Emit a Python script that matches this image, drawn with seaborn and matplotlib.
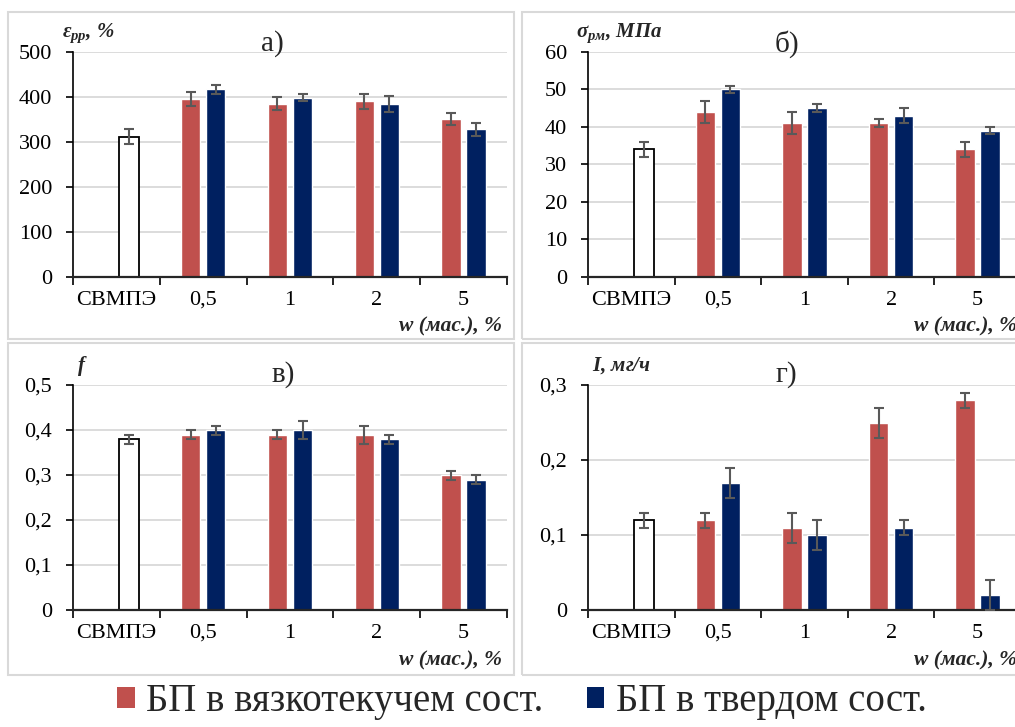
import numpy as np
import pandas as pd
import matplotlib
matplotlib.use("Agg")
import matplotlib.pyplot as plt
from matplotlib.patches import Rectangle, Patch
from matplotlib.ticker import FuncFormatter, FixedLocator
import seaborn as sns

# ---- data ----
categories = ["СВМПЭ", "0,5", "1", "2", "5"]
series = ["БП в вязкотекучем сост.", "БП в твердом сост."]

# elongation at break, %
elong_visc = [np.nan, 396, 385, 390, 351]
elong_visc_err = [np.nan, 16, 15, 17, 14]
elong_solid = [312, 417, 398, 384, 328]
elong_solid_err = [16, 10, 8, 18, 14]

# tensile strength, MPa
strength_visc = [np.nan, 44, 41, 41, 34]
strength_visc_err = [np.nan, 3, 3, 1, 2]
strength_solid = [34, 50, 45, 43, 39]
strength_solid_err = [2, 1, 1, 2, 1]

# friction coefficient
friction_visc = [np.nan, 0.39, 0.39, 0.39, 0.30]
friction_visc_err = [np.nan, 0.01, 0.01, 0.02, 0.01]
friction_solid = [0.38, 0.40, 0.40, 0.38, 0.29]
friction_solid_err = [0.01, 0.01, 0.02, 0.01, 0.01]

# wear rate, mg/h
wear_visc = [np.nan, 0.12, 0.11, 0.25, 0.28]
wear_visc_err = [np.nan, 0.01, 0.02, 0.02, 0.01]
wear_solid = [0.12, 0.17, 0.10, 0.11, 0.02]
wear_solid_err = [0.01, 0.02, 0.02, 0.01, 0.02]

RED = "#C0504D"
BLUE = "#002060"
GRID = "#d9d9d9"
ERR = "#595959"

sns.set_theme(style="white")
plt.rcParams["font.family"] = ["Liberation Serif", "DejaVu Serif"]
plt.rcParams["mathtext.fontset"] = "custom"
plt.rcParams["mathtext.it"] = "Liberation Serif:italic:bold"
plt.rcParams["mathtext.rm"] = "Liberation Serif:italic:bold"
plt.rcParams["mathtext.bf"] = "Liberation Serif:italic:bold"

W, H = 1015, 727
fig = plt.figure(figsize=(W / 100, H / 100), dpi=100)
fig.patch.set_facecolor("white")

TICK_FS = 16


def fx(px):
    return px / W


def fy(py):
    return 1 - py / H


def comma_fmt(v, _pos):
    return f"{v:g}".replace(".", ",")


def panel(rect, visc, visc_err, solid, solid_err, ymax, ystep):
    left, top, right, bottom = rect
    ax = fig.add_axes([fx(left), fy(bottom), fx(right - left), (bottom - top) / H])
    rows = []
    for i, c in enumerate(categories):
        if not np.isnan(visc[i]):
            rows.append((c, series[0], visc[i]))
        rows.append((c, series[1], solid[i]))
    df = pd.DataFrame(rows, columns=["cat", "ser", "val"])
    sns.barplot(data=df, x="cat", y="val", hue="ser", order=categories,
                hue_order=series, palette=[RED, BLUE], saturation=1,
                width=0.577, gap=0.22, errorbar=None, legend=False, ax=ax)

    bars = [p for cont in list(ax.containers) for p in cont]
    for p in bars:
        cx = p.get_x() + p.get_width() / 2
        cat = int(round(cx))
        if cx < cat:
            err = visc_err[cat]
        else:
            err = solid_err[cat]
            if cat == 0:
                p.set_facecolor("white")
                p.set_edgecolor("black")
                p.set_linewidth(1.3)
        ax.errorbar(cx, p.get_height(), yerr=err, fmt="none", ecolor=ERR,
                    elinewidth=1.5, capsize=3.5, capthick=1.5, zorder=5)

    ax.set_xlim(-0.5, 4.5)
    ax.set_ylim(0, ymax)
    ax.set_yticks(np.arange(0, ymax + ystep / 2, ystep))
    ax.yaxis.set_major_formatter(FuncFormatter(comma_fmt))
    ax.set_xticks(range(len(categories)))
    ax.set_xticklabels(categories)
    ax.xaxis.set_minor_locator(FixedLocator(np.arange(-0.5, len(categories), 1)))
    ax.set_xlabel("")
    ax.set_ylabel("")

    ax.yaxis.grid(True, color=GRID, lw=1.3)
    ax.set_axisbelow(True)
    for s in ("top", "right"):
        ax.spines[s].set_visible(False)
    ax.spines["left"].set_color("black")
    ax.spines["left"].set_linewidth(1.2)
    ax.spines["bottom"].set_color("#262626")
    ax.spines["bottom"].set_linewidth(1.6)

    ax.tick_params(axis="x", which="major", length=0, pad=10, labelsize=TICK_FS,
                   labelcolor="black", bottom=True)
    ax.tick_params(axis="x", which="minor", length=6, width=1.2, direction="out",
                   color="black", bottom=True)
    ax.tick_params(axis="y", which="major", length=5, width=1.2, direction="out",
                   color="black", left=True, pad=10, labelsize=TICK_FS,
                   labelcolor="black")
    return ax


# panel frames
frame_kw = dict(fill=False, edgecolor=GRID, lw=1.5, transform=fig.transFigure)
for (x0, y0, x1, y1) in [(8, 12, 514, 339), (522, 12, 1040, 339),
                         (8, 343, 514, 675), (522, 343, 1040, 675)]:
    fig.add_artist(Rectangle((fx(x0), fy(y1)), fx(x1 - x0), (y1 - y0) / H, **frame_kw))

ax_a = panel((73, 52, 507, 277), elong_visc, elong_visc_err, elong_solid,
             elong_solid_err, 500, 100)
ax_b = panel((588, 52, 1021, 277), strength_visc, strength_visc_err,
             strength_solid, strength_solid_err, 60, 10)
ax_c = panel((73, 385, 507, 610), friction_visc, friction_visc_err,
             friction_solid, friction_solid_err, 0.5, 0.1)
ax_d = panel((588, 385, 1021, 610), wear_visc, wear_visc_err, wear_solid,
             wear_solid_err, 0.3, 0.1)

lab_kw = dict(fontsize=15, fontweight="bold", style="italic", va="center")
fig.text(fx(62), fy(33), r"$ε_{рр}$, %", ha="left", **lab_kw)
fig.text(fx(576), fy(33), r"$σ_{рм}$, МПа", ha="left", **lab_kw)
fig.text(fx(77), fy(366), r"$f$", ha="left", **lab_kw)
fig.text(fx(592), fy(366), r"$I$, мг/ч", ha="left", **lab_kw)

xl_kw = dict(fontsize=15.5, fontweight="bold", style="italic", va="center", ha="right")
fig.text(fx(502), fy(326), "w (мас.), %", **xl_kw)
fig.text(fx(1017), fy(326), "w (мас.), %", **xl_kw)
fig.text(fx(502), fy(660), "w (мас.), %", **xl_kw)
fig.text(fx(1017), fy(660), "w (мас.), %", **xl_kw)

ttl_kw = dict(fontsize=21, ha="center", va="center")
fig.text(fx(272), fy(44), "а)", **ttl_kw)
fig.text(fx(787), fy(44), "б)", **ttl_kw)
fig.text(fx(283), fy(375), "в)", **ttl_kw)
fig.text(fx(786), fy(375), "г)", **ttl_kw)

handles = [Patch(facecolor=RED, edgecolor="none"), Patch(facecolor=BLUE, edgecolor="none")]
fig.legend(handles, series, loc="center", bbox_to_anchor=(fx(522), fy(702)),
           ncol=2, frameon=False, fontsize=28, handlelength=0.45, handleheight=0.45,
           handletextpad=0.3, columnspacing=1.1)

fig.savefig("out.png", dpi=100)
